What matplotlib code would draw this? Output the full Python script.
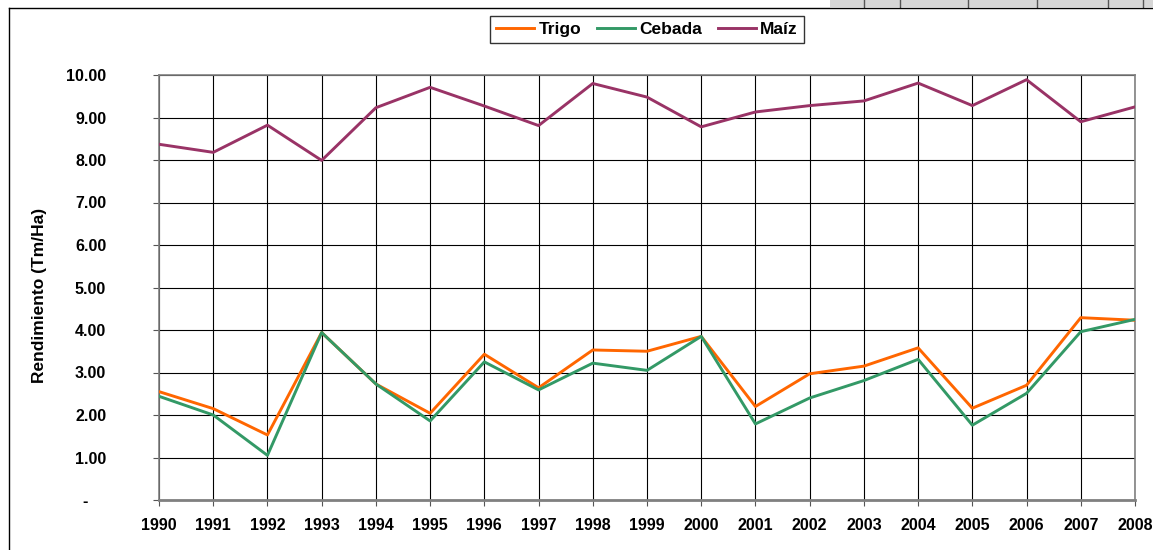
import numpy as np
import matplotlib
matplotlib.use("Agg")
from matplotlib import pyplot as plt
from matplotlib.lines import Line2D
from matplotlib.patches import Rectangle

plt.rcParams["font.family"] = ["Liberation Sans", "DejaVu Sans"]
plt.rcParams["font.weight"] = "bold"

# data
years = list(range(1990, 2009))
trigo = [2.55, 2.15, 1.53, 3.94, 2.73, 2.04, 3.43, 2.64, 3.53, 3.50,
         3.85, 2.20, 2.97, 3.15, 3.58, 2.16, 2.70, 4.29, 4.23]
cebada = [2.44, 2.00, 1.05, 3.94, 2.73, 1.86, 3.25, 2.59, 3.22, 3.05,
          3.85, 1.79, 2.40, 2.81, 3.31, 1.76, 2.51, 3.96, 4.25]
maiz = [8.37, 8.18, 8.82, 7.99, 9.23, 9.71, 9.27, 8.81, 9.80, 9.48,
        8.78, 9.13, 9.28, 9.39, 9.81, 9.28, 9.89, 8.90, 9.25]
series_names = ["Trigo", "Cebada", "Maíz"]
colors = ["#FF6600", "#339966", "#993366"]
ytick_vals = list(range(0, 11))
ytick_labels = ["-    "] + [f"{v:.2f}" for v in ytick_vals[1:]]

W, H = 1153, 550
fig = plt.figure(figsize=(W / 100, H / 100), dpi=100)

# bits of the spreadsheet behind the chart (top right cells)
fig.add_artist(Rectangle((830 / W, 1 - 7 / H), (W - 830) / W, 7 / H,
                         transform=fig.transFigure, facecolor="#D6D6D6",
                         edgecolor="none"))
for xd in [864, 900, 968, 1037, 1108, 1143]:
    fig.add_artist(Line2D([xd / W, xd / W], [1 - 7 / H, 1],
                          transform=fig.transFigure, color="#555555", lw=1))

# chart area border (left and top edges visible)
fig.add_artist(Line2D([9 / W, 9 / W], [0, 1 - 8 / H],
                      transform=fig.transFigure, color="black", lw=1))
fig.add_artist(Line2D([9 / W, 1], [1 - 8 / H, 1 - 8 / H],
                      transform=fig.transFigure, color="black", lw=1))

ax = fig.add_axes([159 / W, 1 - 500 / H, (1135 - 159) / W, (500 - 75) / H])

for vals, name, c in zip([trigo, cebada, maiz], series_names, colors):
    ax.plot(years, vals, color=c, lw=2.1, label=name, zorder=3)

ax.set_xlim(years[0], years[-1])
ax.set_ylim(0, 10)
ax.set_xticks(years)
ax.set_xticklabels([str(y) for y in years], fontsize=11.5, fontweight="bold")
ax.set_yticks(ytick_vals)
ax.set_yticklabels(ytick_labels, fontsize=11.5, fontweight="bold")
ax.tick_params(axis="x", direction="out", length=4, pad=9, color="#555555")
ax.tick_params(axis="y", direction="out", length=4, pad=34, color="#555555")
ax.grid(True, color="black", lw=0.8, zorder=1)
for side in ["left", "bottom", "right", "top"]:
    ax.spines[side].set_color("#808080")
    ax.spines[side].set_linewidth(1.2)
ax.spines["bottom"].set_linewidth(2)

ax.set_ylabel("Rendimiento (Tm/Ha)", fontsize=12.5, fontweight="bold")
ax.yaxis.set_label_coords((47 - 159) / (1135 - 159), (500 - 295) / (500 - 75))

leg = fig.legend(loc="center", bbox_to_anchor=(647 / W, 1 - 29.5 / H), ncol=3,
                 frameon=True, fancybox=False, edgecolor="black",
                 prop={"size": 12.5, "weight": "bold"}, handlelength=2.2,
                 handletextpad=0.25, columnspacing=0.9, borderpad=0.35,
                 borderaxespad=0)
leg.get_frame().set_linewidth(1)

fig.savefig("out.png", dpi=100)
